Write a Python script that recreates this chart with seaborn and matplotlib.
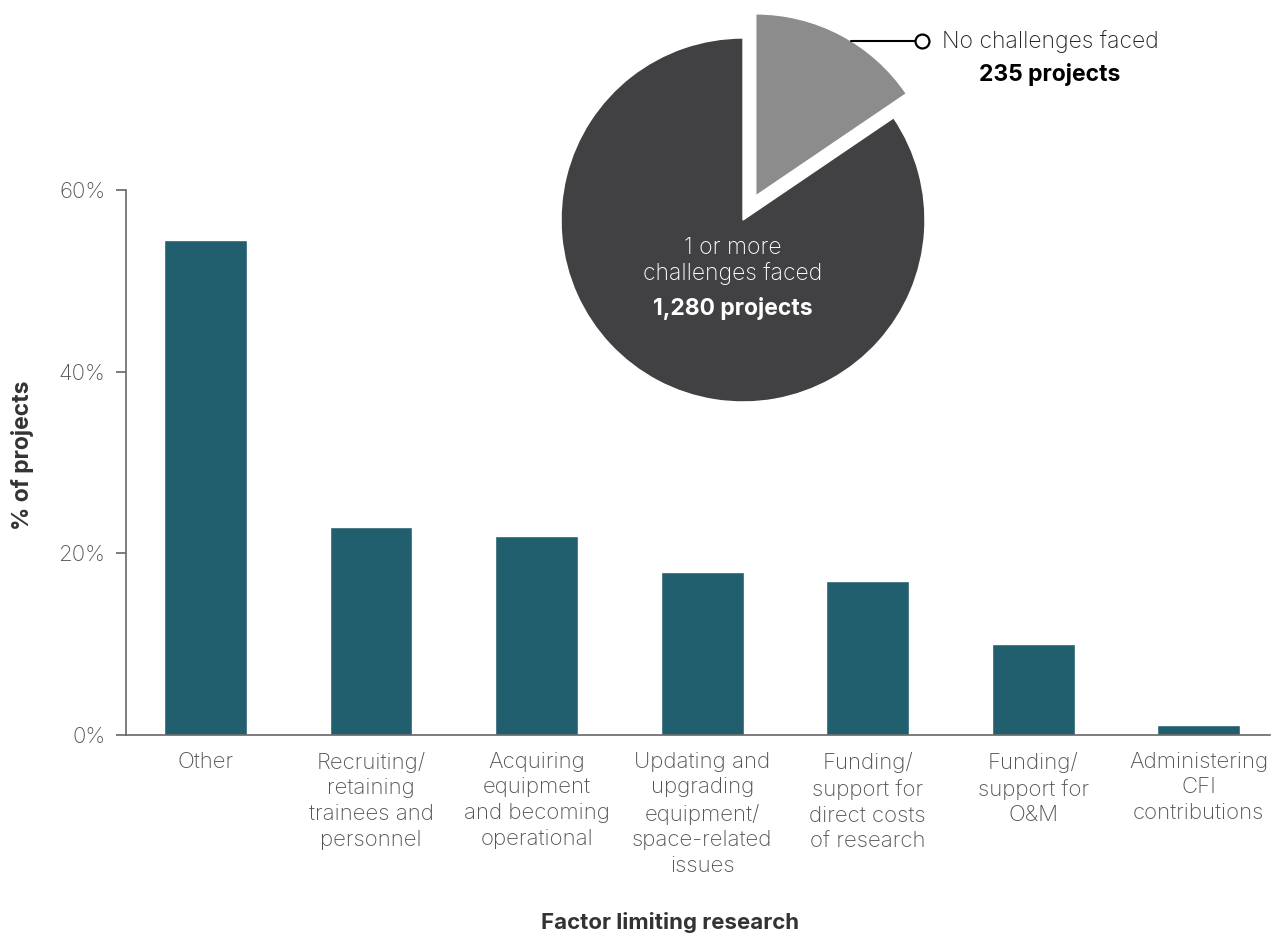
import numpy as np
import matplotlib
matplotlib.use("Agg")
import matplotlib.pyplot as plt
import seaborn as sns

# Share of projects reporting each factor limiting research (%)
factors = [
    "Other",
    "Recruiting/\nretaining\ntrainees and\npersonnel",
    "Acquiring\nequipment\nand becoming\noperational",
    "Updating and\nupgrading\nequipment/\nspace-related\nissues",
    "Funding/\nsupport for\ndirect costs\nof research",
    "Funding/\nsupport for\nO&M",
    "Administering\nCFI\ncontributions",
]
pct_projects = [54.5, 22.9, 21.9, 17.9, 17.0, 10.0, 1.1]

# Projects that did / did not face challenges
pie_labels = ["No challenges faced", "1 or more\nchallenges faced"]
pie_counts = [235, 1280]

y_ticks = [0, 20, 40, 60]

BAR_COLOR = "#215F6E"
PIE_LIGHT = "#8C8C8C"
PIE_DARK = "#414143"
TEXT_GRAY = "#555555"
TEXT_DARK = "#333333"

sns.set_theme(style="white")
plt.rcParams["font.family"] = ["Inter", "DejaVu Sans"]

W, H = 1276, 936
fig = plt.figure(figsize=(W / 100, H / 100), dpi=100)

# ---- bar chart ----
ax = fig.add_axes([126 / W, (H - 735) / H, (1270 - 126) / W, (735 - 190) / H])
sns.barplot(x=factors, y=pct_projects, color=BAR_COLOR, width=0.5,
            saturation=1, ax=ax)
ax.set_ylim(0, 60)
ax.set_xlim(-0.48, 6.43)
ax.set_yticks(y_ticks)
ax.set_yticklabels([f"{t}%" for t in y_ticks])
for s in ["top", "right"]:
    ax.spines[s].set_visible(False)
for s in ["left", "bottom"]:
    ax.spines[s].set_color("#666666")
    ax.spines[s].set_linewidth(1.2)
ax.tick_params(axis="y", which="both", left=True, length=7, width=1.2,
               color="#666666", labelsize=16, labelcolor=TEXT_GRAY, pad=8)
ax.tick_params(axis="x", bottom=False, labelsize=16, labelcolor=TEXT_GRAY,
               pad=6)
for lab in ax.get_yticklabels():
    lab.set_fontweight("light")
for lab in ax.get_xticklabels():
    lab.set_fontweight("light")
    lab.set_linespacing(1.36)
ax.set_xlabel("Factor limiting research", fontsize=16, fontweight="bold",
              color=TEXT_DARK)
ax.set_ylabel("% of projects", fontsize=16.5, fontweight="bold",
              color=TEXT_DARK)
ax.xaxis.set_label_coords(0.4755, -0.325)
ax.yaxis.set_label_coords(-0.08, 0.514)

# ---- inset pie ----
R_PX = 182
cx, cy = 743, 220
half = 1.2 * R_PX
pax = fig.add_axes([(cx - half) / W, (H - cy - half) / H, 2 * half / W, 2 * half / H])
explode = [0.15, 0.0]
wedges, _ = pax.pie(pie_counts, colors=[PIE_LIGHT, PIE_DARK], startangle=90,
                    counterclock=False, explode=explode, radius=1.0)
pax.set_xlim(-1.2, 1.2)
pax.set_ylim(-1.2, 1.2)
pax.set_aspect("equal")
pax.axis("off")

# leader line from the "no challenges" wedge
w0 = wedges[0]
ang = np.deg2rad(58.3)
x0 = w0.center[0] + w0.r * np.cos(ang)
y0 = w0.center[1] + w0.r * np.sin(ang)
x1 = 0.983
pax.plot([x0, x1], [y0, y0], color="black", lw=1.5, clip_on=False)
pax.plot([x1], [y0], "o", ms=10, mfc="white", mec="black", mew=1.6, clip_on=False)
pax.text(x1 + 0.11, y0, pie_labels[0], ha="left", va="center", fontsize=16.5,
         fontweight="light", color="#222222", clip_on=False)
pax.text(1.687, 0.797, f"{pie_counts[0]:,} projects", ha="center", va="center",
         fontsize=16.5, fontweight="bold", color="black", clip_on=False)

# label inside the "1 or more" wedge
pax.text(-0.055, -0.225, pie_labels[1], ha="center", va="center", fontsize=16.5,
         fontweight="light", color="white", multialignment="center",
         linespacing=1.15)
pax.text(-0.055, -0.484, f"{pie_counts[1]:,} projects", ha="center",
         va="center", fontsize=16.5, fontweight="bold", color="white")

fig.savefig("out.png", dpi=100)
